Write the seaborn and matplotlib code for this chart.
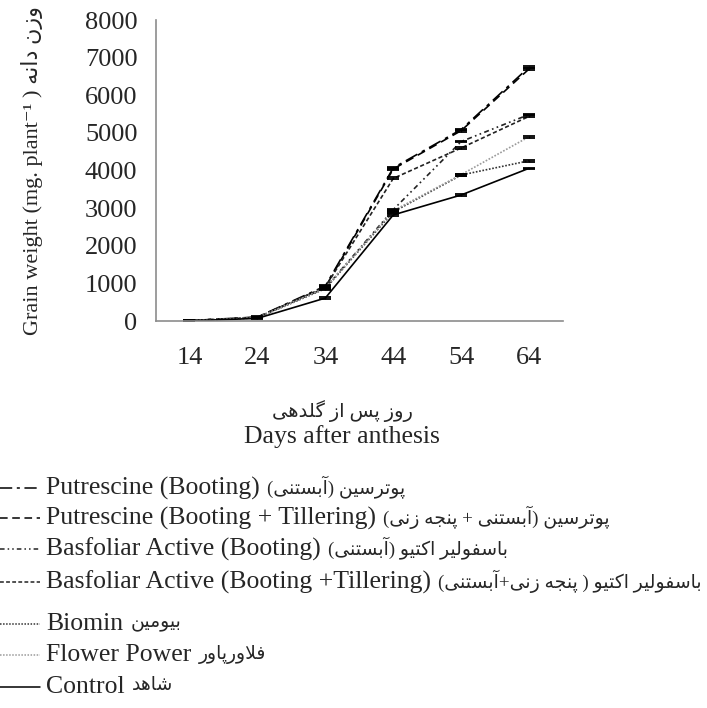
import numpy as np
import pandas as pd
import matplotlib.pyplot as plt
import seaborn as sns
from matplotlib.lines import Line2D

sns.set_style('white')
# 英文用 Times 类字体, 波斯文回退到 DejaVu Sans
plt.rcParams['font.family'] = ['Liberation Serif', 'DejaVu Sans']

# ==================== 数据 ====================
days = ['14', '24', '34', '44', '54', '64']

treat_en = ['Putrescine (Booting)',
            'Putrescine (Booting + Tillering)',
            'Basfoliar Active (Booting)',
            'Basfoliar Active (Booting +Tillering)',
            'Biomin',
            'Flower Power',
            'Control']
treat_fa = ['پوترسین (آبستنی)',
            'پوترسین (آبستنی + پنجه زنی)',
            'باسفولیر اکتیو (آبستنی)',
            'باسفولیر اکتیو ( پنجه زنی+آبستنی)',
            'بیومین',
            'فلاورپاور',
            'شاهد']

putrescine_b = [12, 105, 930, 4070, 5090, 6750]
putrescine_bt = [12, 100, 900, 4040, 5060, 6700]
basfoliar_b = [10, 95, 880, 2960, 4770, 5490]
basfoliar_bt = [10, 95, 905, 3790, 4600, 5440]
biomin = [10, 85, 860, 2900, 3880, 4260]
flower_power = [10, 85, 880, 2930, 3890, 4900]
control = [5, 70, 610, 2820, 3350, 4060]

se_putrescine_b = [5, 15, 25, 25, 25, 25]
se_putrescine_bt = [5, 15, 25, 25, 25, 25]
se_basfoliar_b = [5, 15, 25, 25, 25, 25]
se_basfoliar_bt = [5, 15, 25, 25, 25, 25]
se_biomin = [5, 15, 25, 25, 25, 25]
se_flower_power = [5, 15, 25, 25, 25, 25]
se_control = [5, 15, 15, 20, 20, 20]

values = [putrescine_b, putrescine_bt, basfoliar_b, basfoliar_bt,
          biomin, flower_power, control]
errors = [se_putrescine_b, se_putrescine_bt, se_basfoliar_b, se_basfoliar_bt,
          se_biomin, se_flower_power, se_control]

# 线型与颜色
dash_list = [(8, 3, 2, 3), (5, 3), (3, 2, 1, 2, 1, 2), (2.5, 1.5), (1, 1), (1, 1), '']
color_list = ['black', 'black', '#222222', '#222222', '#333333', '#9a9a9a', 'black']


# ==================== 波斯文整形 (无 arabic_reshaper) ====================
FORMS = {
    'ا': (0xFE8D, 0xFE8E, None, None),
    'آ': (0xFE81, 0xFE82, None, None),
    'ب': (0xFE8F, 0xFE90, 0xFE91, 0xFE92),
    'پ': (0xFB56, 0xFB57, 0xFB58, 0xFB59),
    'ت': (0xFE95, 0xFE96, 0xFE97, 0xFE98),
    'ج': (0xFE9D, 0xFE9E, 0xFE9F, 0xFEA0),
    'د': (0xFEA9, 0xFEAA, None, None),
    'ر': (0xFEAD, 0xFEAE, None, None),
    'ز': (0xFEAF, 0xFEB0, None, None),
    'س': (0xFEB1, 0xFEB2, 0xFEB3, 0xFEB4),
    'ش': (0xFEB5, 0xFEB6, 0xFEB7, 0xFEB8),
    'ف': (0xFED1, 0xFED2, 0xFED3, 0xFED4),
    'ک': (0xFB8E, 0xFB8F, 0xFB90, 0xFB91),
    'گ': (0xFB92, 0xFB93, 0xFB94, 0xFB95),
    'ل': (0xFEDD, 0xFEDE, 0xFEDF, 0xFEE0),
    'م': (0xFEE1, 0xFEE2, 0xFEE3, 0xFEE4),
    'ن': (0xFEE5, 0xFEE6, 0xFEE7, 0xFEE8),
    'ه': (0xFEE9, 0xFEEA, 0xFEEB, 0xFEEC),
    'و': (0xFEED, 0xFEEE, None, None),
    'ی': (0xFBFC, 0xFBFD, 0xFBFE, 0xFBFF),
}
LAM_ALEF = {'ا': (0xFEFB, 0xFEFC), 'آ': (0xFEF5, 0xFEF6)}


def fa(txt):
    txt = txt.replace('\u064A', '\u06CC').replace('\u0643', '\u06A9')
    chars = list(txt)
    out = []
    i = 0
    while i < len(chars):
        c = chars[i]
        if c not in FORMS:
            out.append(c)
            i += 1
            continue
        prev = chars[i - 1] if i > 0 else ''
        join_prev = prev in FORMS and FORMS[prev][2] is not None
        if c == 'ل' and i + 1 < len(chars) and chars[i + 1] in LAM_ALEF:
            lig = LAM_ALEF[chars[i + 1]]
            out.append(chr(lig[1] if join_prev else lig[0]))
            i += 2
            continue
        nxt = chars[i + 1] if i + 1 < len(chars) else ''
        join_next = FORMS[c][2] is not None and nxt in FORMS
        iso, fin, ini, med = FORMS[c]
        if join_prev and join_next:
            out.append(chr(med))
        elif join_prev:
            out.append(chr(fin))
        elif join_next:
            out.append(chr(ini))
        else:
            out.append(chr(iso))
        i += 1
    vis = ''.join(reversed(out))
    return vis.translate(str.maketrans('()', ')('))


# ==================== 长表 ====================
rows = []
for name, vals in zip(treat_en, values):
    for k, v in enumerate(vals):
        rows.append({'treatment': name, 'pos': k, 'weight': v})
df = pd.DataFrame(rows)

palette = dict(zip(treat_en, color_list))
dashes = dict(zip(treat_en, dash_list))

# ==================== 画图 ====================
fig = plt.figure(figsize=(7.07, 7.08), dpi=100)
ax = fig.add_axes([0.22, 0.5466, 0.5764, 0.4251])

sns.lineplot(data=df, x='pos', y='weight', hue='treatment', style='treatment',
             palette=palette, dashes=dashes, linewidth=1.2, legend=False,
             errorbar=None, ax=ax)

for vals, err in zip(values, errors):
    ax.errorbar(range(len(days)), vals, yerr=err, fmt='none', ecolor='black',
                elinewidth=1, capsize=4.5, capthick=1.3)

ax.set_xlim(-0.5, 5.5)
ax.set_ylim(0, 8000)
ax.set_yticks(np.arange(0, 8001, 1000))
ax.set_xticks(np.arange(-0.5, 6, 1))
ax.set_xticklabels([])
ax.set_xticks(range(len(days)), minor=True)
ax.set_xticklabels(days, minor=True)
ax.set_xlabel('')
ax.set_ylabel('Grain weight (mg. plant\u207b\u00b9 ) ' + fa('وزن دانه'),
              fontsize=16, labelpad=30)

for side in ['top', 'right']:
    ax.spines[side].set_visible(False)
for side in ['left', 'bottom']:
    ax.spines[side].set_color('#8c8c8c')
    ax.spines[side].set_linewidth(1.2)

ax.tick_params(axis='both', which='major', direction='out', length=6,
               width=1.2, color='#8c8c8c', labelsize=19, pad=7)
ax.tick_params(axis='x', which='minor', length=0, labelsize=19, pad=19)

# x 轴标题 (波斯文 + 英文)
fig.text(0.484, 0.42, fa('روز پس از گلدهی'), ha='center', va='center', fontsize=14)
fig.text(0.484, 0.383, 'Days after anthesis', ha='center', va='center', fontsize=18.5)

# 图例 (手动排列, 英文后接波斯文)
row_y = [488, 518, 549, 582, 624, 655, 687]
renderer = fig.canvas.get_renderer()
for name, name_fa, dsh, col, yy in zip(treat_en, treat_fa, dash_list, color_list, row_y):
    yf = 1 - yy / 708
    ls = '-' if dsh == '' else (0, dsh)
    fig.add_artist(Line2D([0, 40 / 707], [yf, yf], transform=fig.transFigure,
                          color=col, linestyle=ls, linewidth=1.1))
    t = fig.text(46 / 707, yf, name, ha='left', va='center', fontsize=18.5)
    x_end = t.get_window_extent(renderer).x1
    fig.text((x_end + 7) / 707, yf + 1 / 708, fa(name_fa), ha='left', va='center',
             fontsize=13.5)

plt.savefig('out.png', dpi=100)
